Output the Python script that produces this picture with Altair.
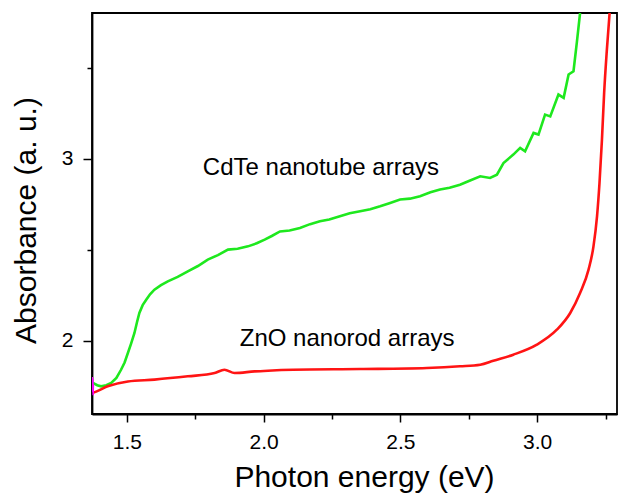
import altair as alt
import pandas as pd

# CdTe nanotube arrays (green)
cdte_x = [1.376, 1.392, 1.406, 1.425, 1.443, 1.462, 1.479, 1.492, 1.504, 1.516, 1.528, 1.537,
          1.546, 1.558, 1.571, 1.585, 1.601, 1.625, 1.65, 1.686, 1.723, 1.76, 1.796, 1.833,
          1.870, 1.905, 1.943, 1.975, 2.004, 2.03, 2.06, 2.095, 2.133, 2.17, 2.206, 2.24,
          2.279, 2.315, 2.353, 2.39, 2.426, 2.46, 2.499, 2.535, 2.572, 2.61, 2.645, 2.68,
          2.718, 2.755, 2.792, 2.828, 2.853, 2.877, 2.913, 2.938, 2.956, 2.987, 3.005,
          3.029, 3.048, 3.078, 3.097, 3.115, 3.133, 3.145, 3.157]
cdte_y = [1.768, 1.755, 1.749, 1.755, 1.768, 1.795, 1.84, 1.88, 1.932, 1.985, 2.042, 2.1,
          2.152, 2.195, 2.225, 2.255, 2.28, 2.305, 2.326, 2.35, 2.381, 2.41, 2.445, 2.47,
          2.50, 2.505, 2.518, 2.535, 2.555, 2.575, 2.60, 2.605, 2.619, 2.64, 2.656, 2.665,
          2.683, 2.70, 2.711, 2.722, 2.738, 2.755, 2.775, 2.78, 2.793, 2.815, 2.83, 2.84,
          2.857, 2.88, 2.903, 2.894, 2.912, 2.976, 3.022, 3.059, 3.04, 3.141, 3.132,
          3.242, 3.232, 3.352, 3.334, 3.462, 3.48, 3.636, 3.80]

# ZnO nanorod arrays (red)
zno_x = [1.376, 1.388, 1.43, 1.504, 1.601, 1.723, 1.821, 1.857, 1.894, 1.967, 2.016,
         2.108, 2.353, 2.597, 2.718, 2.792, 2.84, 2.913, 2.999, 3.072, 3.121, 3.157,
         3.188, 3.206, 3.219, 3.228, 3.237, 3.245, 3.255, 3.265]
zno_y = [1.713, 1.72, 1.749, 1.776, 1.786, 1.804, 1.822, 1.84, 1.822, 1.831, 1.835,
         1.84, 1.844, 1.85, 1.859, 1.868, 1.89, 1.923, 1.978, 2.06, 2.152, 2.262,
         2.39, 2.518, 2.683, 2.866, 3.104, 3.361, 3.599, 3.80]

# short magenta trace at the left edge
mag_x = [1.374, 1.375, 1.376, 1.377, 1.378]
mag_y = [1.80, 1.72, 1.79, 1.70, 1.76]

label_text = ["CdTe nanotube arrays", "ZnO nanorod arrays"]
label_x = [1.778, 1.913]
label_y = [2.912, 1.973]

x_ticks = [1.5, 1.75, 2.0, 2.25, 2.5, 2.75, 3.0, 3.25]
y_ticks = [2.0, 2.5, 3.0, 3.5]

FONT = "Liberation Sans"

cdte = pd.DataFrame({"x": cdte_x, "y": cdte_y})
zno = pd.DataFrame({"x": zno_x, "y": zno_y})
mag = pd.DataFrame({"x": mag_x, "y": mag_y})
labels = pd.DataFrame({"t": label_text, "x": label_x, "y": label_y})

xscale = alt.Scale(domain=[1.3728, 3.292], nice=False, zero=False)
yscale = alt.Scale(domain=[1.597, 3.80], nice=False, zero=False)

xaxis = alt.Axis(
    values=x_ticks, title="Photon energy (eV)", grid=False,
    labelExpr="round(datum.value*4) % 2 === 0 ? format(datum.value, '.1f') : ''",
    tickSize={"condition": {"test": "round(datum.value*4) % 2 === 0", "value": 8}, "value": 5},
    tickColor="black", tickWidth=1.5, domainColor="black", domainWidth=1.8,
    labelFont=FONT, labelFontSize=21, labelColor="black", labelPadding=9,
    titleFont=FONT, titleFontSize=30, titleFontWeight="normal", titleColor="black",
    titleX=272, titleY=72, titleBaseline="alphabetic", titleAlign="center", titleAnchor="start",
)
yaxis = alt.Axis(
    values=y_ticks, title="Absorbance (a. u.)", grid=False,
    labelExpr="round(datum.value*2) % 2 === 0 ? format(datum.value, 'd') : ''",
    tickSize={"condition": {"test": "round(datum.value*2) % 2 === 0", "value": 9}, "value": 5},
    tickColor="black", tickWidth=1.5, domainColor="black", domainWidth=1.8,
    labelFont=FONT, labelFontSize=21, labelColor="black", labelPadding=10,
    titleFont=FONT, titleFontSize=30, titleFontWeight="normal", titleColor="black",
    titleAngle=270, titleX=-57, titleY=207, titleBaseline="alphabetic", titleAlign="center",
    titleAnchor="start",
)

green = alt.Chart(cdte).mark_line(color="#1ee81e", strokeWidth=2.6, clip=True).encode(
    x=alt.X("x:Q", scale=xscale, axis=xaxis),
    y=alt.Y("y:Q", scale=yscale, axis=yaxis),
)
red = alt.Chart(zno).mark_line(color="#ff1414", strokeWidth=2.6, clip=True,
                               interpolate="monotone").encode(
    x=alt.X("x:Q", scale=xscale),
    y=alt.Y("y:Q", scale=yscale),
)
magenta = alt.Chart(mag).mark_line(color="#ff00ff", strokeWidth=1.5, clip=True).encode(
    x=alt.X("x:Q", scale=xscale),
    y=alt.Y("y:Q", scale=yscale),
)
text = alt.Chart(labels).mark_text(
    font=FONT, fontSize=24, align="left", baseline="alphabetic", color="black"
).encode(
    x=alt.X("x:Q", scale=xscale),
    y=alt.Y("y:Q", scale=yscale),
    text="t:N",
)

chart = alt.layer(green, red, magenta, text).properties(
    width=525, height=401,
    autosize=alt.AutoSizeParams(type="none"),
    padding={"left": 92, "top": 13, "right": 3, "bottom": 80},
    background="white",
).configure_view(stroke="black", strokeWidth=1.8)

chart.save("out.html", embed_options={"renderer": "svg", "actions": False})
